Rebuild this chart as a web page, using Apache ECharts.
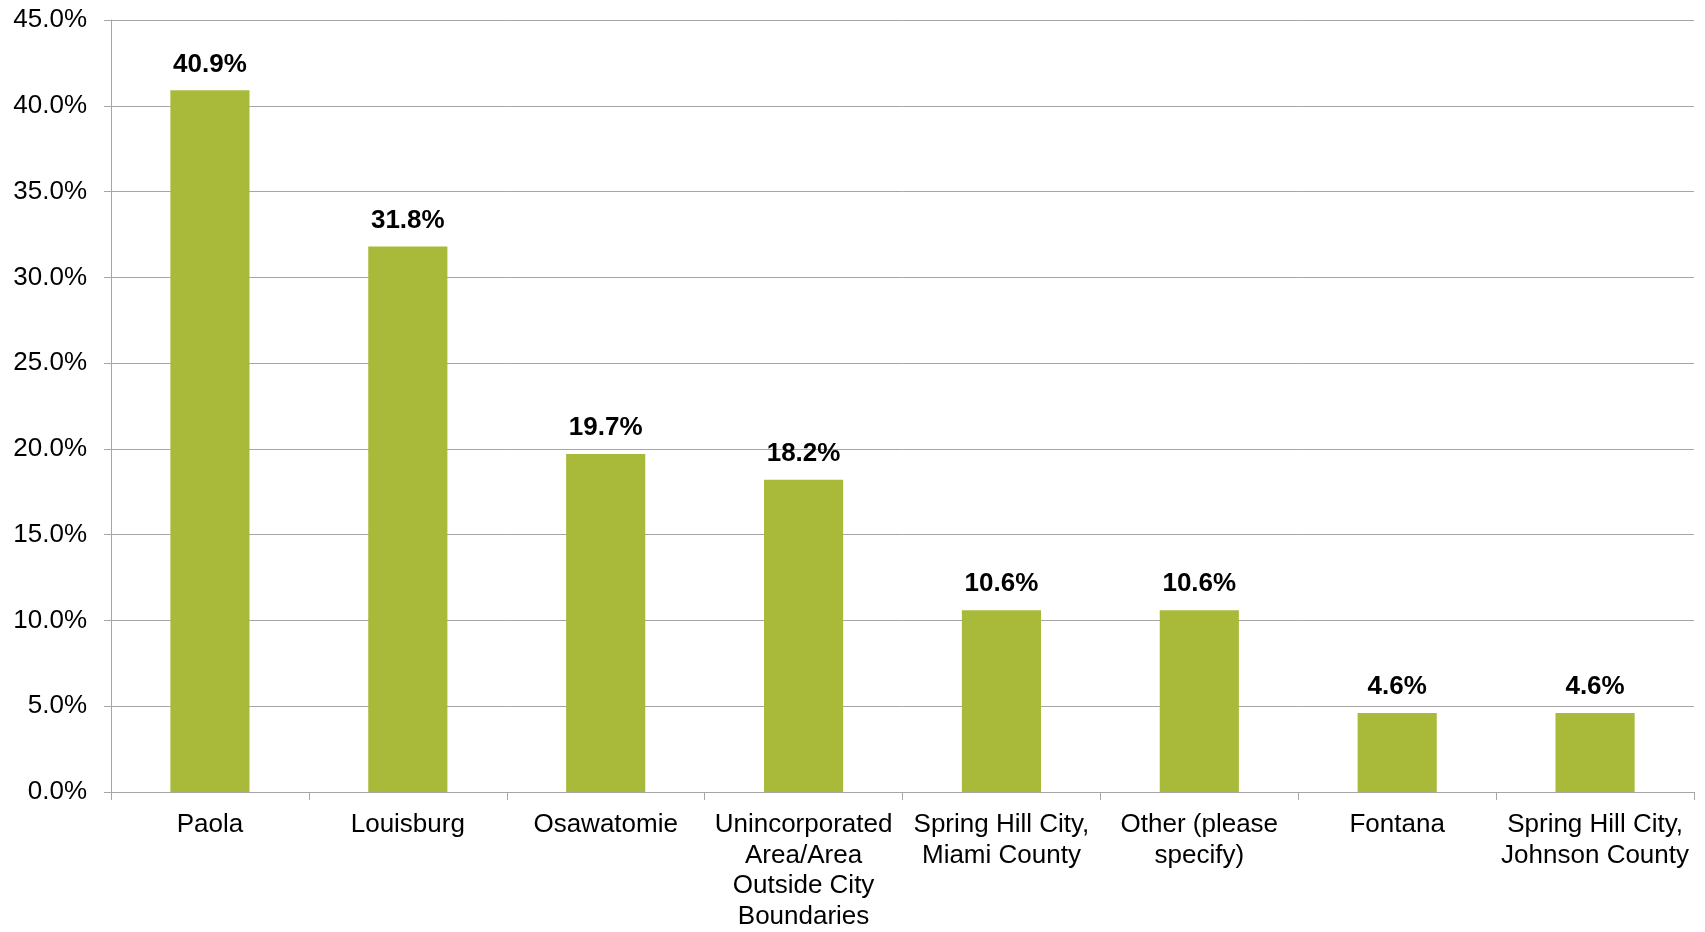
<!DOCTYPE html>
<html>
<head>
<meta charset="utf-8">
<title>Community of residence</title>
<script src="https://cdn.jsdelivr.net/npm/echarts@6/dist/echarts.min.js"></script>
<style>
  html, body { margin: 0; padding: 0; background: #ffffff; }
  #chart { width: 1705px; height: 932px; }
</style>
</head>
<body>
<div id="chart"></div>
<script>
// Communities (multi-line labels kept as they are printed under the axis)
const categories = [
  'Paola',
  'Louisburg',
  'Osawatomie',
  'Unincorporated\nArea/Area\nOutside City\nBoundaries',
  'Spring Hill City,\nMiami County',
  'Other (please\nspecify)',
  'Fontana',
  'Spring Hill City,\nJohnson County'
];

// Share of respondents, percent
const shares = [40.9, 31.8, 19.7, 18.2, 10.6, 10.6, 4.6, 4.6];

// Value axis range and step, percent
const axisMin = 0;
const axisMax = 45;
const axisStep = 5;

const FONT = '"Liberation Sans", Arial, sans-serif';
const GRID_GRAY = '#a6a6a6';

const chart = echarts.init(document.getElementById('chart'), null, { renderer: 'canvas' });

chart.setOption({
  backgroundColor: '#ffffff',
  animation: false,
  grid: { left: 111, right: 11, top: 20, bottom: 135, containLabel: false },
  xAxis: {
    type: 'category',
    data: categories,
    axisLine: { show: true, lineStyle: { color: GRID_GRAY, width: 1 } },
    axisTick: { show: true, alignWithLabel: false, length: 8, lineStyle: { color: GRID_GRAY } },
    axisLabel: {
      interval: 0,
      margin: 18,
      color: '#000000',
      fontFamily: FONT,
      fontSize: 26,
      lineHeight: 30.5,
      align: 'center'
    },
    splitLine: { show: false }
  },
  yAxis: {
    type: 'value',
    min: axisMin,
    max: axisMax,
    interval: axisStep,
    axisLine: { show: true, lineStyle: { color: GRID_GRAY, width: 1 } },
    axisTick: { show: true, length: 7, lineStyle: { color: GRID_GRAY } },
    axisLabel: {
      margin: 24,
      color: '#000000',
      fontFamily: FONT,
      fontSize: 26,
      formatter: v => v.toFixed(1) + '%'
    },
    splitLine: { show: true, lineStyle: { color: GRID_GRAY, width: 1 } }
  },
  series: [{
    type: 'bar',
    data: shares,
    barWidth: '40%',
    itemStyle: { color: '#a9ba3a' },
    label: {
      show: true,
      position: 'top',
      distance: 13,
      color: '#000000',
      fontFamily: FONT,
      fontWeight: 'bold',
      fontSize: 26,
      lineHeight: 26,
      formatter: p => p.value.toFixed(1) + '%'
    }
  }]
});
</script>
</body>
</html>
